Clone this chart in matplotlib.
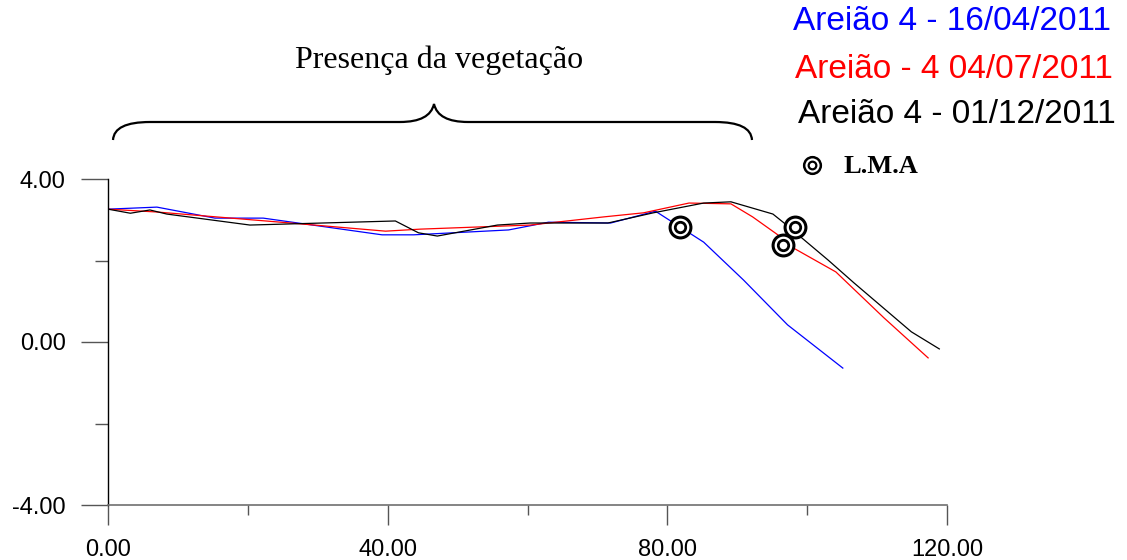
import matplotlib
matplotlib.use("Agg")
import matplotlib.pyplot as plt
from matplotlib.path import Path
from matplotlib.patches import PathPatch
from matplotlib.ticker import FixedLocator

# ---- data ----
blue_x = [0, 7.0, 15.3, 22.2, 39.2, 43.7, 57.3, 63.0, 71.9, 78.3, 85.2, 90.9, 97.2, 105.1]
blue_y = [3.26, 3.31, 3.04, 3.04, 2.63, 2.63, 2.75, 2.94, 2.92, 3.21, 2.45, 1.52, 0.42, -0.64]

red_x = [0, 7.0, 26.1, 39.7, 44.7, 60.4, 70.9, 76.6, 83.1, 89.1, 92.2, 95.8, 98.0, 104.1, 111.0, 117.3]
red_y = [3.26, 3.19, 2.92, 2.72, 2.77, 2.87, 3.07, 3.17, 3.41, 3.39, 3.07, 2.63, 2.31, 1.72, 0.59, -0.39]

black_x = [0, 3.2, 6.0, 8.4, 20.3, 41.1, 44.4, 47.1, 55.7, 60.4, 71.5, 78.0, 85.2, 89.1, 95.1, 96.7,
           103.0, 106.7, 114.9, 118.9]
black_y = [3.26, 3.16, 3.24, 3.14, 2.87, 2.97, 2.68, 2.60, 2.87, 2.92, 2.92, 3.17, 3.41, 3.44, 3.14, 2.92,
           2.01, 1.45, 0.25, -0.17]

lma_x = [81.8, 96.5, 98.2]
lma_y = [2.83, 2.37, 2.83]

series_labels = ["Areião 4 - 16/04/2011", "Areião - 4 04/07/2011", "Areião 4 - 01/12/2011"]
series_colors = ["#0000ff", "#ff0000", "#000000"]
x_ticks = [0, 40, 80, 120]
x_ticklabels = ["0.00", "40.00", "80.00", "120.00"]
y_ticks = [-4, 0, 4]
y_ticklabels = ["-4.00", "0.00", "4.00"]
annotation_text = "Presença da vegetação"
lma_label = "L.M.A"

W, H = 1127, 560
fig = plt.figure(figsize=(W / 100, H / 100), dpi=100)


def fx(px):
    return px / W


def fy(py):
    return 1 - py / H


ax = fig.add_axes([fx(108), fy(505), fx(947) - fx(108), fy(179) - fy(505)])
ax.set_xlim(0, 120)
ax.set_ylim(-4, 4)

for xs, ys, c in zip([blue_x, red_x, black_x], [blue_y, red_y, black_y], series_colors):
    ax.plot(xs, ys, color=c, lw=0.9, solid_joinstyle="miter")

ax.plot(lma_x, lma_y, linestyle="none", marker="o", markersize=15, markerfacecolor="white",
        markeredgecolor="black", markeredgewidth=2.2, zorder=5)
ax.plot(lma_x, lma_y, linestyle="none", marker="o", markersize=7.5, markerfacecolor="none",
        markeredgecolor="black", markeredgewidth=2.0, zorder=6)

for s in ["top", "right"]:
    ax.spines[s].set_visible(False)
ax.spines["left"].set_color("black")
ax.spines["left"].set_linewidth(1.0)
ax.spines["bottom"].set_color("#707070")
ax.spines["bottom"].set_linewidth(1.2)

ax.xaxis.set_major_locator(FixedLocator(x_ticks))
ax.set_xticklabels(x_ticklabels)
ax.xaxis.set_minor_locator(FixedLocator([20, 60, 100]))
ax.yaxis.set_major_locator(FixedLocator(y_ticks))
ax.set_yticklabels(y_ticklabels)
ax.yaxis.set_minor_locator(FixedLocator([-2, 2]))

ax.tick_params(axis="x", which="major", length=14.5, width=1.0, color="#555555", pad=10,
               labelsize=17, labelfontfamily="Liberation Sans")
ax.tick_params(axis="x", which="minor", length=7, width=1.0, color="#555555")
ax.tick_params(axis="y", which="major", length=19.5, width=1.0, color="#555555", pad=11,
               labelsize=17, labelfontfamily="Liberation Sans")
ax.tick_params(axis="y", which="minor", length=9.5, width=1.0, color="#555555")

# brace
verts = [
    (fx(113), fy(140)),
    (fx(114), fy(122)), (fx(150), fy(122)),
    (fx(400), fy(122)),
    (fx(430), fy(122)), (fx(434), fy(104)),
    (fx(438), fy(122)), (fx(468), fy(122)),
    (fx(715), fy(122)),
    (fx(751), fy(122)), (fx(752), fy(140)),
]
codes = [Path.MOVETO, Path.CURVE3, Path.CURVE3, Path.LINETO, Path.CURVE3, Path.CURVE3,
         Path.CURVE3, Path.CURVE3, Path.LINETO, Path.CURVE3, Path.CURVE3]
brace = PathPatch(Path(verts, codes), facecolor="none", edgecolor="black", lw=1.6,
                  transform=fig.transFigure)
fig.add_artist(brace)

fig.text(fx(439), fy(60), annotation_text, ha="center", va="center",
         fontsize=23, family="Liberation Serif")

# legend texts
leg_pos = [(793, 21), (795, 70), (798, 115)]
for (px, py), lab, c in zip(leg_pos, series_labels, series_colors):
    fig.text(fx(px), fy(py), lab, color=c, ha="left", va="center",
             fontsize=24, family="Liberation Sans")

ax.plot([fx(812)], [fy(165)], transform=fig.transFigure, clip_on=False, linestyle="none",
        marker="o", markersize=12, markerfacecolor="white", markeredgecolor="black",
        markeredgewidth=1.8)
ax.plot([fx(812)], [fy(165)], transform=fig.transFigure, clip_on=False, linestyle="none",
        marker="o", markersize=5.5, markerfacecolor="none", markeredgecolor="black",
        markeredgewidth=1.6)
fig.text(fx(843), fy(166), lma_label, ha="left", va="center", fontsize=19,
         family="Liberation Serif", fontweight="bold")

fig.savefig("out.png", dpi=100)
